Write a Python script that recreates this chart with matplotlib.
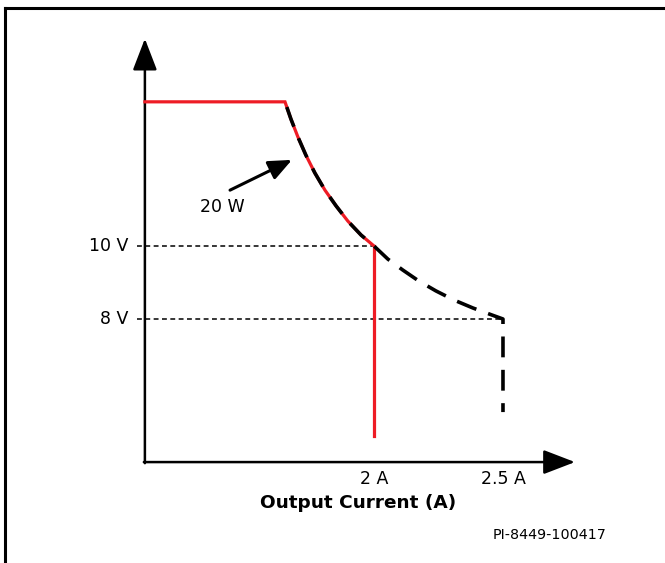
import matplotlib
matplotlib.use("Agg")
from matplotlib import pyplot as plt
from matplotlib.lines import Line2D

# output current (A) / output voltage (V) along the constant power curve
power_i = [1.655, 1.678, 1.705, 1.736, 1.771, 1.810, 1.853, 1.899, 1.950, 2.0,
           2.054, 2.112, 2.174, 2.240, 2.310, 2.384, 2.457, 2.5]
power_v = [13.95, 13.48, 12.99, 12.49, 12.00, 11.53, 11.10, 10.68, 10.30, 10.0,
           9.64, 9.34, 9.04, 8.77, 8.52, 8.30, 8.11, 8.0]

# constant voltage segment
cv_i = [1.112, 1.655]
cv_v = [13.95, 13.95]

# current limits of the two operating points
red_limit_i = [2.0, 2.0]
red_limit_v = [10.0, 4.79]
black_limit_i = [2.5, 2.5]
black_limit_v = [8.0, 5.45]

v_marks = [10, 8]
v_labels = ["10 V", "8 V"]
i_marks = [2, 2.5]
i_labels = ["2 A", "2.5 A"]

origin_i, origin_v = 1.112, 4.08
red_end = 9  # index of the 10 V / 2 A point

plt.rcParams['font.family'] = ['DejaVu Sans']
plt.rcParams['lines.scale_dashes'] = False

fig = plt.figure(figsize=(6.65, 5.63), dpi=100)
ax = fig.add_axes([0, 0, 1, 1])
ax.set_xlim(0.5504, 3.128)
ax.set_ylim(1.315, 16.74)
ax.axis("off")

red = "#ee1c25"

# axes with arrow heads
arrow = dict(arrowstyle="-|>,head_length=1.3,head_width=0.5", color="black",
             lw=1.8, mutation_scale=15, shrinkA=0, shrinkB=0)
ax.annotate("", xy=(origin_i, 15.68), xytext=(origin_i, origin_v - 0.03), arrowprops=arrow)
ax.annotate("", xy=(2.779, origin_v), xytext=(origin_i - 0.004, origin_v), arrowprops=arrow)

# dotted guides from the voltage axis
for v, lbl, i_end in zip(v_marks, v_labels, [2.0, 2.5]):
    ax.plot([origin_i - 0.03, i_end], [v, v], color="black", lw=1.1,
            dashes=(3.5, 2.5), zorder=2)
    ax.text(1.047, v, lbl, ha="right", va="center", fontsize=12.5)

for i, lbl in zip(i_marks, i_labels):
    ax.text(i, 3.62, lbl, ha="center", va="center", fontsize=12.5)

ax.text(1.938, 2.96, "Output Current (A)", ha="center", va="center",
        fontsize=13.3, fontweight="bold")

# red: constant voltage, 20 W curve down to 10 V, then the 2 A limit
ax.plot(cv_i + power_i[1:red_end + 1], cv_v + power_v[1:red_end + 1],
        color=red, lw=2.3, solid_joinstyle="miter", zorder=3)
ax.plot(red_limit_i, red_limit_v, color=red, lw=2.3, zorder=3)

# black dashed: 20 W curve down to 8 V, then the 2.5 A limit
ax.plot(power_i + black_limit_i[1:], power_v + black_limit_v[1:],
        color="black", lw=2.6, linestyle=(20, (15, 9)), dash_capstyle="butt",
        zorder=4)

ax.annotate("", xy=(1.682, 12.36), xytext=(1.442, 11.53),
            arrowprops=dict(arrowstyle="-|>,head_length=1.4,head_width=0.6",
                            color="black", lw=2.2, mutation_scale=10,
                            shrinkA=0, shrinkB=0))
ax.text(1.411, 11.07, "20 W", ha="center", va="center", fontsize=12.5)

ax.text(2.682, 2.08, "PI-8449-100417", ha="center", va="center", fontsize=10.3)

# frame along the top and left edges
fig.add_artist(Line2D([0.0075, 0.0075], [0, 0.9858], color="black", lw=2.2,
                      transform=fig.transFigure))
fig.add_artist(Line2D([0.0075, 1], [0.9858, 0.9858], color="black", lw=2.2,
                      transform=fig.transFigure))

fig.savefig("out.png", dpi=100)
